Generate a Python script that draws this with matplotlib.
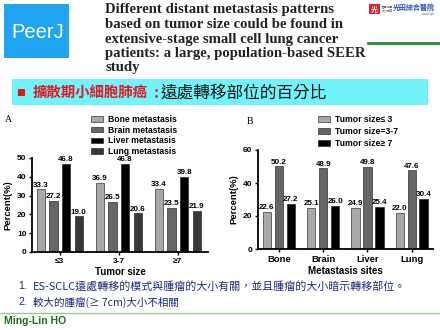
import matplotlib
matplotlib.use("Agg")
import matplotlib.pyplot as plt
from matplotlib.patches import Rectangle
import numpy as np

# ---- data -------------------------------------------------------------
size_groups = ["≤3", "3-7", "≥7"]
site_names_a = ["Bone metastasis", "Brain metastasis", "Liver metastasis", "Lung metastasis"]
bone_pct = [33.3, 36.9, 33.4]
brain_pct = [27.2, 26.5, 23.5]
liver_pct = [46.8, 46.8, 39.8]
lung_pct = [19.0, 20.6, 21.9]

sites = ["Bone", "Brain", "Liver", "Lung"]
size_names_b = ["Tumor size≤ 3", "Tumor size=3-7", "Tumor size≥ 7"]
small_pct = [22.6, 25.1, 24.9, 22.0]
mid_pct = [50.2, 48.9, 49.8, 47.6]
large_pct = [27.2, 26.0, 25.4, 30.4]

yticks_a = [0, 10, 20, 30, 40, 50]
yticks_b = [0, 20, 40, 60]

colors_a = ["#a8a8a8", "#666666", "#000000", "#383838"]
colors_b = ["#a8a8a8", "#666666", "#000000"]

W, H = 440, 330
fig = plt.figure(figsize=(W / 100, H / 100), dpi=100)
fig.patch.set_facecolor("white")

SANS = ["Liberation Sans", "DejaVu Sans"]
CJK = ["Noto Sans CJK TC", "DejaVu Sans"]
SERIF = ["Liberation Serif", "DejaVu Serif"]


def fx(px):
    return px / W


def fy(py):
    return 1 - py / H


def box(x0, y0, x1, y1, color, **kw):
    fig.patches.append(Rectangle((fx(x0), fy(y1)), fx(x1) - fx(x0), fy(y0) - fy(y1),
                                 transform=fig.transFigure, facecolor=color,
                                 edgecolor="none", **kw))


def hline(x0, x1, y, color, lw):
    fig.add_artist(plt.Line2D([fx(x0), fx(x1)], [fy(y), fy(y)], color=color,
                              linewidth=lw, transform=fig.transFigure))


# ---- header -----------------------------------------------------------
box(4, 4, 69, 58, "#1fa5f2")
fig.text(fx(38), fy(32), "PeerJ", color="white", fontsize=14.5, family=SANS,
         ha="center", va="center")

title_lines = ["Different distant metastasis patterns",
               "based on tumor size could be found in",
               "extensive-stage small cell lung cancer",
               "patients: a large, population-based SEER",
               "study"]
for i, line in enumerate(title_lines):
    fig.text(fx(105), fy(10 + 14.5 * i), line, fontsize=10.6, fontweight="bold",
             family=SERIF, ha="left", va="center", color="#222222")

# hospital mark
box(369, 4, 380, 14, "#e0202a")
fig.text(fx(374.5), fy(9), "光", fontsize=5, color="white", family=CJK,
         ha="center", va="center", fontweight="bold")
fig.text(fx(382), fy(7), "醫療社團", fontsize=2.0, color="#555555", family=CJK,
         ha="left", va="center")
fig.text(fx(382), fy(11), "法人光田", fontsize=2.0, color="#555555", family=CJK,
         ha="left", va="center")
fig.text(fx(393), fy(7), "光田綜合醫院", fontsize=5, color="#2050c0", family=CJK,
         ha="left", va="center", fontweight="bold")
fig.text(fx(434), fy(14), "www.ktgh", fontsize=2.0, color="#666666", family=SANS,
         ha="right", va="center")
hline(368, 440, 43, "#2a8a2a", 2.0)

# cyan banner
box(12, 79, 428, 105, "#70f4fa")
box(18, 89, 25, 96, "#e8141e")
fig.text(fx(33), fy(93), "擴散期小細胞肺癌", fontsize=10.4, color="#e01a22",
         family=CJK, ha="left", va="center", fontweight="bold")
fig.text(fx(154), fy(93), ":", fontsize=11, color="#e01a22",
         family=CJK, ha="left", va="center", fontweight="bold")
fig.text(fx(160), fy(93), "遠處轉移部位的百分比", fontsize=12, color="#111111",
         family=CJK, ha="left", va="center")


# ---- charts -----------------------------------------------------------
def style_axes(ax, yticks):
    for s in ("top", "right"):
        ax.spines[s].set_visible(False)
    for s in ("left", "bottom"):
        ax.spines[s].set_linewidth(1.3)
    ax.set_yticks(yticks)
    ax.set_ylim(yticks[0], yticks[-1])
    ax.tick_params(axis="both", direction="out", length=2.5, width=1.0, pad=1.5,
                   labelsize=6)
    for lab in ax.get_yticklabels() + ax.get_xticklabels():
        lab.set_fontweight("bold")
        lab.set_family(SANS)
    ax.set_facecolor("none")


def value_labels(ax, bars, vals):
    for b, v in zip(bars, vals):
        ax.text(b.get_x() + b.get_width() / 2, v + 0.4, f"{v:.1f}", ha="center",
                va="bottom", fontsize=5.8, fontweight="bold", family=SANS)


legend_kw = dict(bbox_transform=fig.transFigure, frameon=False, ncol=1,
                 prop={"family": SANS, "weight": "bold", "size": 6.2},
                 handlelength=1.4, handleheight=0.6, handletextpad=0.6,
                 borderpad=0, borderaxespad=0, loc="upper left")

# chart A
axA = fig.add_axes([fx(32), fy(252), fx(208) - fx(32), fy(158) - fy(252)])
xa = np.arange(len(size_groups))
step_a, width_a = 0.215, 0.14
series_a = [bone_pct, brain_pct, liver_pct, lung_pct]
for i, (vals, col, name) in enumerate(zip(series_a, colors_a, site_names_a)):
    bars = axA.bar(xa + (i - 1.5) * step_a, vals, width_a, color=col,
                   edgecolor="#111111", linewidth=0.4, label=name)
    value_labels(axA, bars, vals)
axA.set_xlim(-0.47, 2.51)
axA.set_xticks(xa)
axA.set_xticklabels(size_groups)
style_axes(axA, yticks_a)
axA.set_ylabel("Percent(%)", fontsize=6.8, fontweight="bold", family=SANS, labelpad=3)
axA.set_xlabel("Tumor size", fontsize=7, fontweight="bold", family=SANS, labelpad=2)
axA.legend(bbox_to_anchor=(fx(91), fy(115)), labelspacing=0.2, **legend_kw)
fig.text(fx(5), fy(120), "A", fontsize=7, family=SERIF, ha="left", va="center")

# chart B
axB = fig.add_axes([fx(257.7), fy(249), fx(433) - fx(257.7), fy(150) - fy(249)])
xb = np.arange(len(sites))
step_b, width_b = 0.27, 0.19
series_b = [small_pct, mid_pct, large_pct]
for i, (vals, col, name) in enumerate(zip(series_b, colors_b, size_names_b)):
    bars = axB.bar(xb + (i - 1) * step_b, vals, width_b, color=col,
                   edgecolor="#111111", linewidth=0.4, label=name)
    value_labels(axB, bars, vals)
axB.set_xlim(-0.48, 3.48)
axB.set_xticks(xb)
axB.set_xticklabels(sites)
style_axes(axB, yticks_b)
for lab in axB.get_xticklabels():
    lab.set_fontsize(6.8)
axB.set_ylabel("Percent(%)", fontsize=6.8, fontweight="bold", family=SANS, labelpad=3)
axB.set_xlabel("Metastasis sites", fontsize=7, fontweight="bold", family=SANS, labelpad=2)
axB.legend(bbox_to_anchor=(fx(318), fy(115)), labelspacing=0.35, **legend_kw)
fig.text(fx(247), fy(121), "B", fontsize=7, family=SERIF, ha="left", va="center")

# ---- notes and footer -------------------------------------------------
note_color = "#1c2a78"
fig.text(fx(18), fy(286), "1.", fontsize=7.5, color=note_color, family=SANS,
         ha="left", va="center")
fig.text(fx(33), fy(286), "ES-SCLC遠處轉移的模式與腫瘤的大小有關，並且腫瘤的大小暗示轉移部位。",
         fontsize=7.9, color=note_color, family=CJK, ha="left", va="center")
fig.text(fx(18), fy(302), "2.", fontsize=7.5, color=note_color, family=SANS,
         ha="left", va="center")
fig.text(fx(33), fy(302), "較大的腫瘤(≥ 7cm)大小不相關",
         fontsize=7.6, color=note_color, family=CJK, ha="left", va="center")

hline(0, 440, 313, "#8fcf8f", 1.0)
fig.text(fx(4), fy(321.5), "Ming-Lin HO", fontsize=7.5, fontweight="bold",
         color="#1a6e1a", family=SANS, ha="left", va="center")

fig.savefig("out.png", dpi=100, facecolor="white")
